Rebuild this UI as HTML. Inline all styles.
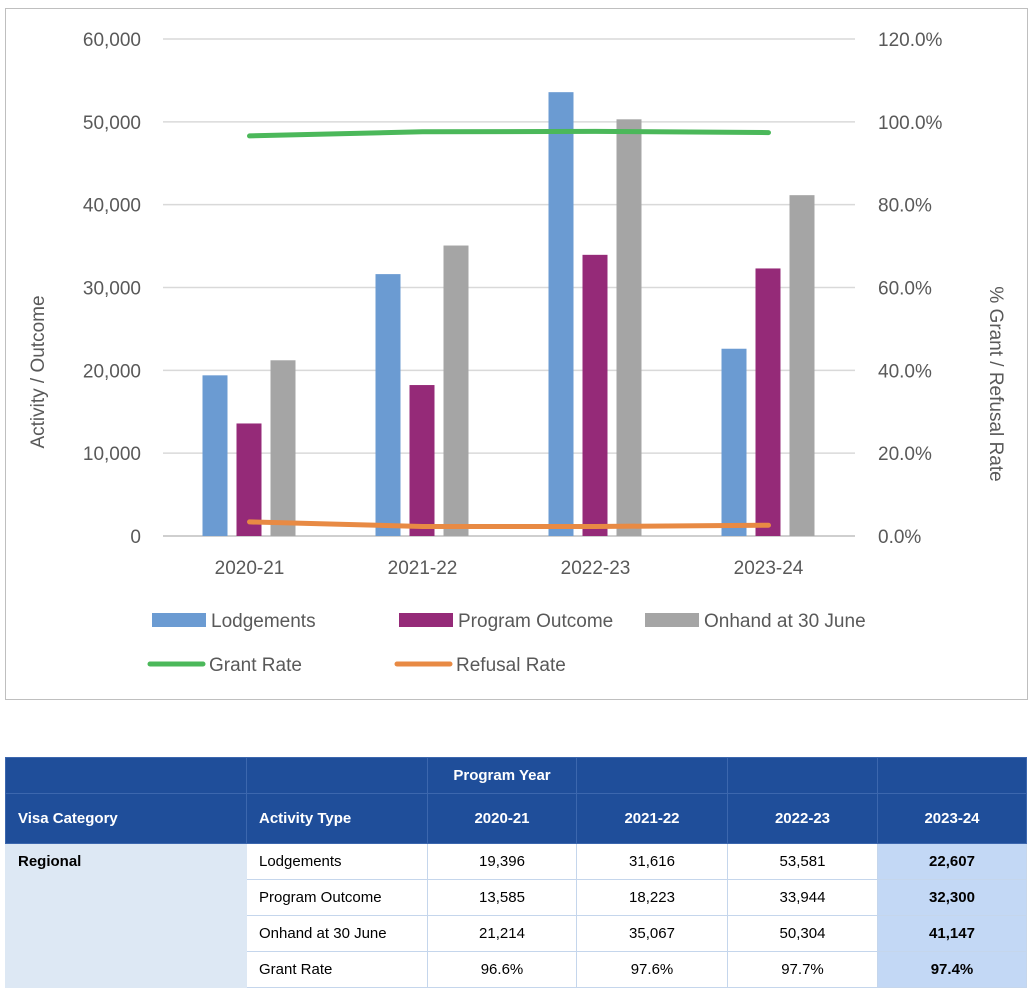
<!DOCTYPE html>
<html><head><meta charset="utf-8"><style>
body{margin:0;width:1036px;height:981px;overflow:hidden;background:#fff;font-family:"Liberation Sans",sans-serif}
#frame{position:absolute;left:5px;top:8px;width:1023px;height:692px;border:1px solid #bfbfbf;box-sizing:border-box}
svg{position:absolute;left:0;top:0}
table{position:absolute;left:5px;top:757px;border-collapse:collapse;width:1022px;font-size:15px}
td{padding:0 12px;border:1px solid #c5d6ec;height:35px}
.h td{background:#1f4e9a;color:#fff;font-weight:bold;border-color:#3c67ae}
.c{text-align:center}
.cat{background:#dde8f4;border-color:#dde8f4}
.hl{background:#c3d8f5;font-weight:bold}
</style></head><body>
<div id="frame"></div>
<svg id="chart" width="1036" height="720"></svg>
<table>
<tr class="h" style="height:36px"><td></td><td></td><td class="c">Program Year</td><td></td><td></td><td></td></tr>
<tr class="h" style="height:50px"><td style="width:216px">Visa Category</td><td style="width:156px">Activity Type</td><td class="c" style="width:124px">2020-21</td><td class="c" style="width:126px">2021-22</td><td class="c" style="width:125px">2022-23</td><td class="c">2023-24</td></tr>
<tr><td class="cat" style="font-weight:bold">Regional</td><td>Lodgements</td><td class="c">19,396</td><td class="c">31,616</td><td class="c">53,581</td><td class="c hl">22,607</td></tr>
<tr><td class="cat"></td><td>Program Outcome</td><td class="c">13,585</td><td class="c">18,223</td><td class="c">33,944</td><td class="c hl">32,300</td></tr>
<tr><td class="cat"></td><td>Onhand at 30 June</td><td class="c">21,214</td><td class="c">35,067</td><td class="c">50,304</td><td class="c hl">41,147</td></tr>
<tr><td class="cat"></td><td>Grant Rate</td><td class="c">96.6%</td><td class="c">97.6%</td><td class="c">97.7%</td><td class="c hl">97.4%</td></tr>
</table>
<script>
const categories=["2020-21","2021-22","2022-23","2023-24"];
const lodgements=[19396,31616,53581,22607];
const programOutcome=[13585,18223,33944,32300];
const onhand=[21214,35067,50304,41147];
const grantRate=[96.6,97.6,97.7,97.4];
const refusalRate=[3.4,2.3,2.3,2.6];
const leftTicks=[0,10000,20000,30000,40000,50000,60000];
const rightTicks=["0.0%","20.0%","40.0%","60.0%","80.0%","100.0%","120.0%"];
const svg=document.getElementById('chart');const NS='http://www.w3.org/2000/svg';
function mk(t,a,txt){const e=document.createElementNS(NS,t);for(const k in a)e.setAttribute(k,a[k]);if(txt!==undefined)e.textContent=txt;svg.appendChild(e);return e;}
const x0=163,x1=855,y0=536,y1=39;
const yL=v=>y0-(v/60000)*(y0-y1);
const yR=v=>y0-(v/120)*(y0-y1);
const band=(x1-x0)/categories.length;
const cx=i=>x0+band*(i+0.5);
leftTicks.forEach((t,i)=>{
 const g=mk('line',{x1:x0,x2:x1,y1:yL(t),y2:yL(t),stroke:i?'#d9d9d9':'#bfbfbf','stroke-width':1.5});
 
 const l=mk('text',{x:141,y:yL(t)+7,'text-anchor':'end','font-size':19,fill:'#595959'},t.toLocaleString('en-US'));
 
 const r=mk('text',{x:878,y:yL(t)+7,'font-size':19,fill:'#595959'},rightTicks[i]);
 
});
const series=[[lodgements,'#6b9bd2'],[programOutcome,'#952a78'],[onhand,'#a5a5a5']];
categories.forEach((c,i)=>{
 series.forEach(([d,col],s)=>{
  const b=mk('rect',{x:cx(i)-47+s*34,y:yL(d[i]),width:25,height:y0-yL(d[i]),fill:col});
  
 });
 const t=mk('text',{x:cx(i),y:574,'text-anchor':'middle','font-size':19,fill:'#595959'},c);
 
});
[[grantRate,'#4bb85a','grant-rate-line'],[refusalRate,'#e88a44','refusal-rate-line']].forEach(([d,col,n])=>{
 const p=mk('polyline',{points:d.map((v,i)=>cx(i)+','+yR(v)).join(' '),fill:'none',stroke:col,'stroke-width':5,'stroke-linecap':'round'});
 
});
const ax=mk('text',{transform:'translate(44,372) rotate(-90)','text-anchor':'middle','font-size':19,fill:'#595959'},'Activity / Outcome');

const ax2=mk('text',{transform:'translate(990,384) rotate(90)','text-anchor':'middle','font-size':19,fill:'#595959'},'% Grant / Refusal Rate');

const leg=[['Lodgements','#6b9bd2',152,620,0],['Program Outcome','#952a78',399,620,0],['Onhand at 30 June','#a5a5a5',645,620,0],['Grant Rate','#4bb85a',150,664,1],['Refusal Rate','#e88a44',397,664,1]];
leg.forEach(([t,col,x,y,line])=>{
 const m=line?mk('line',{x1:x,x2:x+53,y1:y,y2:y,stroke:col,'stroke-width':5,'stroke-linecap':'round'}):mk('rect',{x:x,y:y-7,width:54,height:14,fill:col});
 
 const l=mk('text',{x:x+59,y:y+7,'font-size':19,fill:'#595959'},t);
 
});
</script>
</body></html>
